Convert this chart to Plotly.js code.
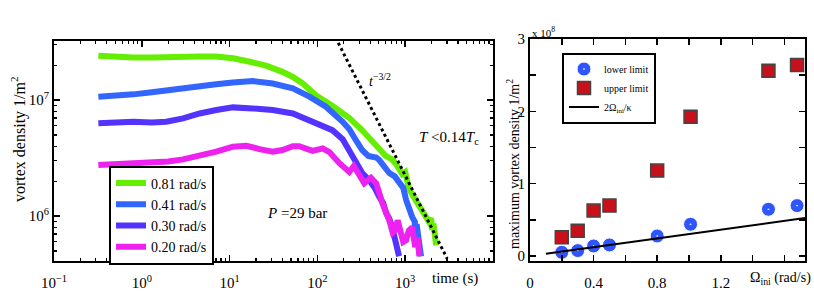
<!DOCTYPE html>
<html>
<head>
<meta charset="utf-8">
<script src="https://cdn.plot.ly/plotly-3.0.1.min.js"></script>
<style>html,body{margin:0;padding:0;background:#fff;}#chart{width:814px;height:291px;}</style>
</head>
<body>
<div id="chart"></div>
<script>
// ---- Left panel: vortex density decay vs time ----
const seriesNames = ["0.81 rad/s", "0.41 rad/s", "0.30 rad/s", "0.20 rad/s"];
const seriesColors = ["#66ee00", "#3366ff", "#5533ff", "#ee22ee"];

const t081 = [0.32,0.5,0.8,1.3,2,3,4.5,7,11,17,26,40,52,68,96,149,231,316,400,507,600,700,791,925,1000,1110,1200,1333,1500,1733,1850,1974,2026,2100,2150,2250];
const n081 = [2.41e7,2.36e7,2.33e7,2.33e7,2.36e7,2.39e7,2.38e7,2.37e7,2.29e7,2.14e7,1.98e7,1.75e7,1.59e7,1.39e7,1.10e7,8.88e6,7.0e6,5.6e6,4.6e6,3.8e6,3.3e6,3.1e6,2.8e6,2.3e6,2.4e6,1.7e6,1.55e6,1.35e6,1.2e6,1.0e6,9.0e5,9.6e5,7.6e5,8.6e5,7.2e5,5.6e5];

const t041 = [0.32,0.5,0.8,1.3,1.9,3,4.6,7,10.9,18.4,31,52.5,81,125,194,231,280,324,380,467,507,580,658,760,855,950,1026,1100,1202,1290,1260,1350,1420,1514];
const n041 = [1.07e7,1.09e7,1.12e7,1.17e7,1.22e7,1.27e7,1.32e7,1.37e7,1.42e7,1.46e7,1.39e7,1.26e7,1.07e7,8.77e6,6.5e6,5.6e6,4.4e6,3.7e6,3.3e6,3.2e6,3.04e6,2.6e6,2.35e6,2.2e6,1.92e6,1.75e6,1.37e6,1.15e6,9.8e5,8.9e5,7.1e5,8.5e5,6.0e5,4.5e5];

const t030 = [0.32,0.5,0.8,1.3,1.9,2.95,4.56,7.05,10.9,18.4,31,52.5,81,125,148,194,231,280,324,389,450,507,560,608,660,711,780,851];
const n030 = [6.3e6,6.4e6,6.5e6,6.4e6,6.5e6,6.95e6,7.67e6,8.2e6,8.65e6,8.48e6,8.2e6,7.67e6,6.73e6,5.89e6,5.5e6,4.6e6,3.71e6,2.9e6,2.35e6,2.04e6,1.75e6,1.46e6,1.3e6,1.06e6,9.5e5,8.0e5,6.2e5,4.5e5];

const t020 = [0.32,0.5,0.8,1.3,2,2.95,4.56,7.05,10.9,15.5,21.9,31,40,52.5,62,75,88,115,137,178,205,231,260,300,342,407,467,550,600,658,720,777,820,880,950,1023,1100,1200,1300,1380,1450];
const n020 = [2.75e6,2.8e6,2.84e6,2.84e6,2.95e6,3.08e6,3.29e6,3.59e6,3.96e6,4.04e6,3.78e6,3.59e6,3.71e6,4.0e6,4.0e6,3.85e6,3.65e6,3.83e6,3.56e6,2.86e6,2.55e6,2.4e6,2.7e6,2.3e6,1.92e6,2.14e6,1.92e6,1.29e6,1.1e6,9.2e5,7.2e5,7.6e5,9.2e5,7.0e5,6.0e5,6.2e5,7.5e5,8.0e5,5.4e5,6.5e5,4.5e5];

const leftT = [t081, t041, t030, t020];
const leftN = [n081, n041, n030, n020];

// t^-3/2 guide line
const guideT = [150, 3000];
const guideN = [3.85e7, 4.31e5];

const leftXTickVals = [0.1, 1, 10, 100, 1000];
const leftXTickText = ["10<sup>−1</sup>", "10<sup>0</sup>", "10<sup>1</sup>", "10<sup>2</sup>", "10<sup>3</sup>"];
const leftYTickVals = [1e6, 1e7];
const leftYTickText = ["10<sup>6</sup>", "10<sup>7</sup>"];

// ---- Right panel: maximum vortex density vs initial rotation ----
const omegaIni = [0.2, 0.3, 0.4, 0.5, 0.8, 1.01, 1.5, 1.68];
const lowerLimit = [0.05e8, 0.074e8, 0.138e8, 0.152e8, 0.276e8, 0.438e8, 0.645e8, 0.696e8];
const upperLimit = [0.258e8, 0.35e8, 0.627e8, 0.696e8, 1.18e8, 1.926e8, 2.56e8, 2.64e8];
const lineOmega = [0.1, 1.73];
const lineDensity = [0.03e8, 0.524e8];
const rightNames = ["lower limit", "upper limit", "2Ω<sub>ini</sub>/κ"];

const rightXTickVals = [0, 0.2, 0.4, 0.6, 0.8, 1.0, 1.2, 1.4, 1.6];
const rightXTickText = ["0", "", "0.4", "", "0.8", "", "1.2", "", ""];
const rightYTickVals = [0, 0.5e8, 1e8, 1.5e8, 2e8, 2.5e8, 3e8];
const rightYTickText = ["0", "", "1", "", "2", "", "3"];

const FONT = '"Liberation Serif", "Times New Roman", Times, serif';

const traces = [];
for (let i = 0; i < 4; i++) {
  traces.push({
    x: leftT[i], y: leftN[i], type: "scatter", mode: "lines",
    name: seriesNames[i], line: {color: seriesColors[i], width: 6},
    xaxis: "x", yaxis: "y", legend: "legend"
  });
}
traces.push({
  x: guideT, y: guideN, type: "scatter", mode: "lines", showlegend: false,
  line: {color: "#000", width: 3, dash: "dot"}, xaxis: "x", yaxis: "y"
});
traces.push({
  x: omegaIni, y: lowerLimit, type: "scatter", mode: "markers", name: rightNames[0],
  marker: {symbol: "circle-dot", size: 14, color: "#2f55ff", line: {color: "#ffffff", width: 1}},
  xaxis: "x2", yaxis: "y2", legend: "legend2"
});
traces.push({
  x: omegaIni, y: upperLimit, type: "scatter", mode: "markers", name: rightNames[1],
  marker: {symbol: "square", size: 13, color: "#c8101a", line: {color: "#444", width: 1.5}},
  xaxis: "x2", yaxis: "y2", legend: "legend2"
});
traces.push({
  x: lineOmega, y: lineDensity, type: "scatter", mode: "lines", name: rightNames[2],
  line: {color: "#000", width: 2}, xaxis: "x2", yaxis: "y2", legend: "legend2"
});

// minor tick positions for log axes
const minorX = [], minorY = [];
for (let e = -1; e <= 3; e++) for (let m = 2; m <= 9; m++) minorX.push(m * Math.pow(10, e));
for (let e = 5; e <= 7; e++) for (let m = 2; m <= 9; m++) minorY.push(m * Math.pow(10, e));

const axisCommon = {
  showline: true, linecolor: "#000", linewidth: 2, mirror: "allticks",
  ticks: "inside", ticklen: 6, tickwidth: 1.5, tickcolor: "#000",
  showgrid: false, zeroline: false, tickfont: {family: FONT, size: 15, color: "#000"}
};

function note(text, px, py, size, extra) {
  return Object.assign({
    text: text, xref: "paper", yref: "paper", x: px / 814, y: 1 - py / 291,
    xanchor: "center", yanchor: "middle", showarrow: false,
    font: {family: FONT, size: size, color: "#000"}
  }, extra || {});
}

const layout = {
  width: 814, height: 291,
  margin: {l: 0, r: 0, t: 0, b: 0},
  paper_bgcolor: "#fff", plot_bgcolor: "#fff",
  font: {family: FONT, color: "#000"},
  xaxis: Object.assign({}, axisCommon, {
    type: "log", domain: [54/814, 493/814], range: [-1, 4],
    tickmode: "array", tickvals: leftXTickVals, ticktext: leftXTickText,
    ticklabelstandoff: 7,
    minor: {tickmode: "array", tickvals: minorX, ticks: "inside", ticklen: 3, tickcolor: "#000", tickwidth: 1.2},
    anchor: "y"
  }),
  yaxis: Object.assign({}, axisCommon, {
    type: "log", domain: [30/291, 250/291], range: [Math.log10(4.1e5), Math.log10(3.23e7)],
    tickmode: "array", tickvals: leftYTickVals, ticktext: leftYTickText,
    minor: {tickmode: "array", tickvals: minorY, ticks: "inside", ticklen: 3, tickcolor: "#000", tickwidth: 1.2},
    anchor: "x"
  }),
  xaxis2: Object.assign({}, axisCommon, {
    domain: [530/814, 805/814], range: [0, 1.73],
    tickmode: "array", tickvals: rightXTickVals, ticktext: rightXTickText,
    ticklabelstandoff: 7,
    anchor: "y2"
  }),
  yaxis2: Object.assign({}, axisCommon, {
    domain: [30/291, 252/291], range: [-0.07e8, 3.0e8],
    tickmode: "array", tickvals: rightYTickVals, ticktext: rightYTickText,
    anchor: "x2"
  }),
  legend: {
    x: 109/814, y: 1 - 215/291, xanchor: "left", yanchor: "middle",
    bgcolor: "#fff", bordercolor: "#000", borderwidth: 2,
    font: {family: FONT, size: 14, color: "#000"}, tracegroupgap: 0
  },
  legend2: {
    x: 562/814, y: 1 - 88/291, xanchor: "left", yanchor: "middle",
    bgcolor: "#fff", bordercolor: "#000", borderwidth: 2,
    font: {family: FONT, size: 10, color: "#000"}
  },
  annotations: [
    note("vortex density 1/m<sup>2</sup>", 18, 139, 16, {textangle: -90}),
    note("time (s)", 430, 278, 15, {xanchor: "left"}),
    note("<i>t</i><sup>−3/2</sup>", 380, 80, 14),
    note("<i>T</i> <0.14<i>T</i><sub>c</sub>", 417, 138, 15, {xanchor: "left"}),
    note("<i>P</i> =29 bar", 297, 213, 15),
    note("maximum vortex density 1/m<sup>2</sup>", 513, 164, 14, {textangle: -90}),
    note("x 10<sup>8</sup>", 530, 32, 11, {xanchor: "left"}),
    note("Ω<sub>ini</sub> (rad/s)", 748, 278, 14, {xanchor: "left"})
  ]
};

Plotly.newPlot("chart", traces, layout, {staticPlot: true, displayModeBar: false});
</script>
</body>
</html>
